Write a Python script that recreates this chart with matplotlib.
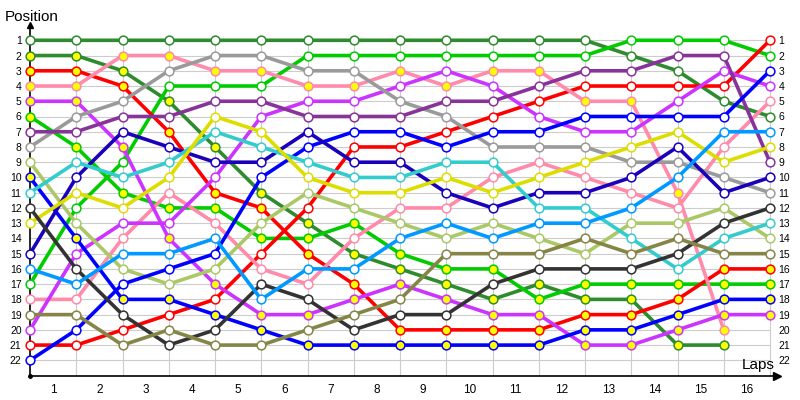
import matplotlib
matplotlib.use("Agg")
import matplotlib.pyplot as plt

# ---- data: race position after each lap (index 0 = start grid) ----
laps_labels = [str(i) for i in range(1, 17)]
positions = list(range(1, 23))

dark_green_a = [1, 1, 1, 1, 1, 1, 1, 1, 1, 1, 1, 1, 1, 2, 3, 5, 6]
dark_green_b = [2, 2, 3, 5, 8, 11, 13, 15, 16, 17, 18, 17, 18, 18, 21, 21]
green_a = [6, 8, 11, 12, 12, 14, 14, 13, 15, 16, 16, 18, 17, 17, 17, 17, 17]
green_b = [17, 12, 9, 4, 4, 4, 2, 2, 2, 2, 2, 2, 2, 1, 1, 1, 2]
red_a = [3, 3, 4, 7, 11, 12, 15, 17, 20, 20, 20, 20, 19, 19, 18, 16, 16]
red_b = [21, 21, 20, 19, 18, 15, 12, 8, 8, 7, 6, 5, 4, 4, 4, 4, 1]
pink_a = [4, 4, 2, 2, 3, 3, 4, 4, 3, 4, 3, 3, 5, 5, 11, 20]
pink_b = [18, 18, 14, 11, 13, 16, 17, 14, 12, 12, 10, 9, 10, 11, 12, 8, 5]
magenta_a = [5, 5, 8, 14, 17, 19, 19, 18, 17, 18, 19, 19, 21, 21, 20, 19, 19]
magenta_b = [20, 15, 13, 13, 10, 6, 5, 5, 4, 3, 4, 6, 7, 7, 5, 3, 4]
gray = [8, 6, 5, 3, 2, 2, 3, 3, 5, 6, 8, 8, 8, 9, 9, 10, 11]
purple = [7, 7, 6, 6, 5, 5, 6, 6, 6, 5, 5, 4, 3, 3, 2, 2, 9]
yellow_green = [9, 13, 16, 17, 16, 13, 11, 12, 13, 14, 13, 14, 15, 13, 13, 12, 14]
blue_a = [10, 14, 18, 18, 19, 20, 21, 21, 21, 21, 21, 21, 20, 20, 19, 18, 18]
blue_b = [22, 20, 17, 16, 15, 10, 8, 7, 7, 8, 7, 7, 6, 6, 6, 6, 3]
dark_blue = [15, 10, 7, 8, 9, 9, 7, 9, 9, 11, 12, 11, 11, 10, 8, 11, 10]
cyan = [11, 9, 10, 9, 7, 8, 9, 10, 10, 9, 9, 12, 12, 14, 16, 14, 13]
yellow = [13, 11, 12, 10, 6, 7, 10, 11, 11, 10, 11, 10, 9, 8, 7, 9, 8]
dark_gray = [12, 16, 19, 21, 20, 17, 18, 20, 19, 19, 17, 16, 16, 16, 15, 13, 12]
light_blue = [16, 17, 15, 15, 14, 18, 16, 16, 14, 13, 14, 13, 13, 12, 10, 7, 7]
olive = [19, 19, 21, 20, 21, 21, 20, 19, 18, 15, 15, 15, 14, 15, 14, 15, 15]

# (values, line colour, marker filled yellow?)
series = [
    (dark_green_a, "#2e8b2e", False),
    (dark_green_b, "#2e8b2e", True),
    (green_a, "#00cc00", True),
    (green_b, "#00cc00", False),
    (red_a, "#ff0000", True),
    (red_b, "#ff0000", False),
    (pink_a, "#ff8aaa", True),
    (pink_b, "#ff8aaa", False),
    (magenta_a, "#cc33ff", True),
    (magenta_b, "#cc33ff", False),
    (gray, "#9a9a9a", False),
    (purple, "#883399", False),
    (yellow_green, "#aac866", False),
    (blue_a, "#0000ff", True),
    (blue_b, "#0000ff", False),
    (dark_blue, "#1a00bb", False),
    (cyan, "#33cccc", False),
    (yellow, "#dddd00", False),
    (dark_gray, "#333333", False),
    (light_blue, "#0099ff", False),
    (olive, "#858548", False),
]

# ---- figure ----
W, H = 800, 400
x0_px, dx_px = 30.0, 46.25
y1_px, dy_px = 40.3, 15.24

fig = plt.figure(figsize=(8, 4), dpi=100)
ax = fig.add_axes([0, 0, 1, 1])
ax.set_xlim(-x0_px / dx_px, (W - x0_px) / dx_px)
ax.set_ylim(1 + (H - y1_px) / dy_px, 1 - y1_px / dy_px)
ax.patch.set_alpha(0)

# grid
ax.hlines(positions, 0, 16, color="#cccccc", lw=0.8, zorder=1)
ax.vlines(range(1, 17), 0.7, 23, color="#cccccc", lw=0.8, zorder=1)

# lines then markers
for vals, col, ylw in series:
    xs = list(range(len(vals)))
    ax.plot(xs, vals, color=col, lw=2.6, zorder=2, solid_capstyle="round")
for vals, col, ylw in series:
    xs = list(range(len(vals)))
    ax.plot(xs, vals, ls="none", marker="o", ms=6.3, mew=1.1,
            mec=col, mfc="#ffff00" if ylw else "white", zorder=3)

# spines / axes
for s in ("top",):
    ax.spines[s].set_visible(False)
ax.spines["left"].set_position(("data", 0))
ax.spines["left"].set_bounds(0, 23)
ax.spines["left"].set_linewidth(1.2)
ax.spines["bottom"].set_position(("data", 23))
ax.spines["bottom"].set_bounds(0, 16.1)
ax.spines["bottom"].set_linewidth(1.2)
ax.spines["right"].set_position(("data", 16))
ax.spines["right"].set_visible(False)
ax.plot([16.15], [23], marker=">", ms=6, color="black", clip_on=False, zorder=4)
ax.plot([0], [0.0], marker="^", ms=4, color="black", zorder=4)
ax.plot([0], [23], marker="o", ms=2.5, color="black", zorder=4)

ax.set_yticks(positions)
ax.set_yticklabels([str(p) for p in positions], fontsize=7.5, family="Liberation Sans")
ax.tick_params(axis="y", length=0, left=False, right=False,
               labelleft=True, labelright=True, pad=6)
ax.set_xticks([i - 0.5 for i in range(1, 17)])
ax.set_xticklabels(laps_labels, fontsize=8.5, family="Liberation Sans")
ax.tick_params(axis="x", length=0, pad=6)

fig.text(5 / W, 1 - 21 / H, "Position", fontsize=11, family="Liberation Sans",
         va="baseline", ha="left")
fig.text(742 / W, 1 - 369 / H, "Laps", fontsize=11, family="Liberation Sans",
         va="baseline", ha="left")

fig.savefig("out.png", dpi=100)
